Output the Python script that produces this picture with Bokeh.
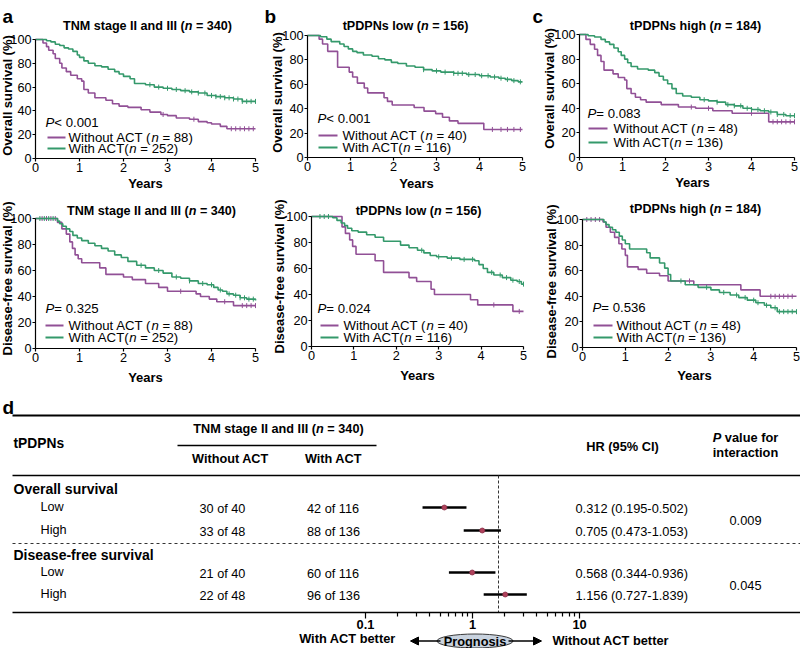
import numpy as np
from bokeh.plotting import figure
from bokeh.models import (Range1d, FixedTicker, Label, Arrow, NormalHead,
                          CustomJSTickFormatter)
from bokeh.layouts import column, row
from bokeh.embed import file_html
from bokeh.resources import INLINE

# ======================= DATA =======================
x_ticks = [0, 1, 2, 3, 4, 5]
y_ticks = [0, 20, 40, 60, 80, 100]

# Kaplan-Meier step points: (years, survival %), plus censor times
# (a) overall survival, TNM stage II and III
a_os_without = [(0, 100), (0.17, 97), (0.25, 94), (0.3, 91), (0.4, 88), (0.45, 84), (0.55, 80),
                (0.6, 76), (0.7, 73), (0.8, 70), (0.95, 67), (1.05, 65), (1.1, 58), (1.2, 55),
                (1.35, 51), (1.6, 49), (1.75, 46), (1.9, 44), (2.1, 43), (2.4, 41), (2.6, 39),
                (2.85, 37), (3.0, 36), (3.2, 34), (3.5, 33), (3.7, 31), (3.9, 30), (4.0, 29),
                (4.2, 27), (4.35, 25), (5.0, 25)]
a_os_without_cens = [2.9, 3.6, 4.45, 4.55, 4.65, 4.75, 4.85, 4.95]
a_os_with = [(0, 100), (0.25, 99), (0.35, 98), (0.45, 96), (0.55, 95), (0.65, 93), (0.75, 92),
             (0.85, 90), (0.95, 87), (1.0, 85), (1.1, 82), (1.2, 80), (1.35, 78), (1.5, 77),
             (1.65, 75), (1.8, 73), (1.9, 71), (2.0, 69), (2.15, 67), (2.25, 63), (2.5, 62),
             (2.7, 60), (2.9, 59), (3.1, 58), (3.3, 57), (3.5, 56), (3.7, 55), (3.9, 53),
             (4.1, 52), (4.3, 51), (4.5, 50), (4.7, 48), (5.0, 48)]
a_os_with_cens = [2.6, 2.8, 3.0, 3.2, 3.4, 3.55, 3.7, 3.85, 4.0, 4.1, 4.2, 4.3, 4.4, 4.5,
                  4.6, 4.7, 4.8, 4.9, 5.0]

# (b) overall survival, tPDPNs low
b_os_without = [(0, 100), (0.27, 97), (0.35, 93), (0.47, 87), (0.7, 74), (0.97, 70), (1.05, 66),
                (1.16, 61), (1.32, 57), (1.4, 53), (1.78, 49), (1.86, 46), (1.97, 43), (2.48, 41),
                (2.71, 38), (2.98, 36), (3.14, 33), (3.3, 30), (3.5, 28), (4.1, 23), (5.0, 23)]
b_os_without_cens = [4.3, 4.5, 4.65, 4.8, 4.95]
b_os_with = [(0, 100), (0.3, 99), (0.45, 97), (0.55, 95), (0.75, 93), (0.85, 91), (0.95, 89),
             (1.05, 87), (1.15, 86), (1.3, 84), (1.5, 83), (1.65, 81), (1.8, 80), (1.95, 78),
             (2.1, 77), (2.3, 75), (2.5, 74), (2.7, 72), (2.9, 71), (3.1, 70), (3.4, 69),
             (3.7, 68), (4.0, 67), (4.25, 66), (4.45, 65), (4.6, 64), (4.75, 63), (4.9, 62),
             (5.0, 62)]
b_os_with_cens = [2.7, 3.0, 3.2, 3.4, 3.5, 3.6, 3.75, 3.9, 4.05, 4.2, 4.35, 4.5, 4.65, 4.8, 4.95]

# (c) overall survival, tPDPNs high
c_os_without = [(0, 100), (0.15, 96), (0.25, 92), (0.35, 88), (0.42, 83), (0.5, 78), (0.57, 71),
                (0.78, 68), (0.9, 65), (1.05, 63), (1.1, 56), (1.2, 52), (1.3, 49), (1.42, 47),
                (1.55, 45), (1.9, 43), (2.3, 41), (2.7, 40), (3.1, 38), (3.55, 36), (4.4, 29),
                (5.0, 29)]
c_os_without_cens = [2.6, 3.0, 4.0, 4.5, 4.6, 4.7, 4.8, 4.9, 5.0]
c_os_with = [(0, 100), (0.2, 99), (0.35, 98), (0.5, 96), (0.6, 94), (0.7, 92), (0.8, 89),
             (0.9, 86), (0.97, 83), (1.05, 80), (1.12, 77), (1.2, 74), (1.35, 72), (1.6, 71),
             (1.75, 69), (1.85, 66), (1.95, 63), (2.05, 60), (2.15, 56), (2.25, 52), (2.4, 50),
             (2.6, 49), (2.8, 47), (3.0, 46), (3.2, 45), (3.4, 43), (3.6, 42), (3.8, 40),
             (4.0, 39), (4.2, 38), (4.4, 37), (4.6, 35), (4.8, 34), (5.0, 34)]
c_os_with_cens = [2.9, 3.2, 3.45, 3.6, 3.75, 3.9, 4.0, 4.15, 4.3, 4.45, 4.6, 4.75, 4.9, 5.0]

# (a) disease-free survival, TNM stage II and III
a_dfs_without = [(0, 100), (0.5, 97), (0.6, 92), (0.7, 88), (0.78, 82), (0.84, 77), (0.9, 72),
                 (0.97, 69), (1.05, 66), (1.46, 62), (1.6, 57), (2.0, 55), (2.2, 53), (2.5, 50),
                 (2.8, 47), (3.0, 44), (3.65, 42), (3.75, 40), (3.95, 38), (4.12, 36), (4.5, 33),
                 (5.0, 33)]
a_dfs_without_cens = [0.15, 0.25, 0.35, 0.45, 3.3, 4.3, 4.7, 4.8, 4.9, 5.0]
a_dfs_with = [(0, 100), (0.5, 98), (0.55, 96), (0.62, 94), (0.7, 92), (0.78, 90), (0.85, 87),
              (0.95, 85), (1.05, 83), (1.2, 81), (1.35, 79), (1.5, 77), (1.65, 75), (1.8, 72),
              (1.95, 70), (2.1, 67), (2.3, 64), (2.5, 62), (2.7, 60), (2.9, 58), (3.1, 55),
              (3.3, 54), (3.5, 52), (3.7, 50), (3.9, 49), (4.05, 47), (4.15, 45), (4.25, 44),
              (4.35, 42), (4.5, 41), (4.65, 39), (4.8, 38), (5.0, 37)]
a_dfs_with_cens = [0.1, 0.2, 0.3, 0.4, 2.4, 2.8, 3.2, 3.5, 3.8, 4.0, 4.2, 4.4, 4.55, 4.65,
                   4.75, 4.85, 4.95]

# (b) disease-free survival, tPDPNs low
b_dfs_without = [(0, 100), (0.72, 92), (0.8, 87), (0.9, 82), (0.97, 77), (1.05, 71), (1.5, 66),
                 (1.7, 57), (2.3, 53), (2.48, 50), (2.82, 44), (2.9, 40), (3.75, 36), (3.92, 32),
                 (4.75, 27), (5.0, 27)]
b_dfs_without_cens = [4.3, 4.9]
b_dfs_with = [(0, 100), (0.5, 99), (0.6, 97), (0.7, 95), (0.78, 93), (0.85, 91), (0.95, 89),
              (1.1, 88), (1.3, 86), (1.5, 84), (1.7, 81), (2.1, 78), (2.3, 76), (2.5, 74),
              (2.65, 72), (2.8, 70), (2.95, 69), (3.2, 68), (3.5, 67), (3.85, 66), (3.95, 63),
              (4.05, 60), (4.15, 57), (4.3, 55), (4.5, 53), (4.7, 51), (4.85, 50), (4.95, 48),
              (5.0, 48)]
b_dfs_with_cens = [0.2, 0.3, 0.4, 2.6, 3.0, 3.3, 3.6, 3.8, 4.25, 4.45, 4.6, 4.75, 4.9, 5.0]

# (c) disease-free survival, tPDPNs high
c_dfs_without = [(0, 100), (0.48, 98), (0.55, 94), (0.65, 90), (0.75, 86), (0.85, 81),
                 (0.92, 77), (1.0, 72), (1.05, 63), (1.3, 61), (1.5, 58), (1.8, 56), (2.0, 52),
                 (2.6, 49), (3.7, 45), (4.15, 40), (5.0, 40)]
c_dfs_without_cens = [0.1, 0.2, 0.3, 0.4, 2.5, 4.4, 4.5, 4.6, 4.7, 4.8, 4.9]
c_dfs_with = [(0, 100), (0.5, 98), (0.55, 96), (0.62, 94), (0.7, 92), (0.78, 90), (0.86, 87),
              (0.93, 84), (1.0, 81), (1.1, 77), (1.5, 74), (1.58, 70), (1.8, 66), (1.92, 62),
              (2.0, 57), (2.06, 52), (2.4, 49), (2.7, 47), (3.0, 45), (3.2, 43), (3.45, 41),
              (3.65, 39), (3.85, 37), (4.05, 35), (4.25, 33), (4.4, 31), (4.55, 28), (5.0, 28)]
c_dfs_with_cens = [2.3, 2.9, 3.3, 3.6, 3.8, 4.0, 4.1, 4.3, 4.5, 4.6, 4.7, 4.8, 4.9, 5.0]

panel_titles = ["TNM stage II and III", "tPDPNs low", "tPDPNs high"]
panel_n = [340, 156, 184]
n_without = [88, 40, 48]
n_with = [252, 116, 136]
p_os = ["< 0.001", "< 0.001", "= 0.083"]
p_dfs = ["= 0.325", "= 0.024", "= 0.536"]

# (d) interaction table
tbl_groups = ["Overall survival", "Disease-free survival"]
tbl_levels = ["Low", "High", "Low", "High"]
wo_events = [30, 33, 21, 22]
wo_total = [40, 48, 40, 48]
w_events = [42, 88, 60, 96]
w_total = [116, 136, 116, 136]
hr = [0.312, 0.705, 0.568, 1.156]
hr_lo = [0.195, 0.473, 0.344, 0.727]
hr_hi = [0.502, 1.053, 0.936, 1.839]
p_interaction = ["0.009", "0.045"]
forest_ticks = [0.1, 1, 10]

# ======================= STYLE / LAYOUT =======================
FONT = "Liberation Sans"
PURPLE = "#915096"
GREEN = "#34996b"

REG = {' ': 278, '(': 333, ')': 333, '=': 584, '<': 584, '.': 278, '-': 333, '%': 889,
       'A': 667, 'C': 722, 'T': 611, 'W': 944, 'P': 667, 'L': 556, 'H': 722, 'N': 722,
       'M': 833, 'I': 278, 'D': 722, 'S': 667, 'R': 722, 'Y': 667,
       'a': 556, 'b': 556, 'c': 500, 'd': 556, 'e': 556, 'f': 278, 'g': 556, 'h': 556,
       'i': 222, 'j': 222, 'k': 500, 'l': 222, 'm': 833, 'n': 556, 'o': 556, 'p': 556,
       'q': 556, 'r': 333, 's': 500, 't': 278, 'u': 556, 'v': 500, 'w': 722, 'x': 500,
       'y': 500, 'z': 500}
BOLD = {' ': 278, '(': 333, ')': 333, '=': 584, '<': 584, '.': 278, '-': 333, '%': 889,
        'A': 722, 'C': 722, 'T': 611, 'W': 944, 'P': 667, 'L': 611, 'H': 722, 'N': 722,
        'M': 833, 'I': 278, 'D': 722, 'S': 667, 'R': 722, 'Y': 667,
        'a': 556, 'b': 611, 'c': 556, 'd': 611, 'e': 556, 'f': 333, 'g': 611, 'h': 611,
        'i': 278, 'j': 278, 'k': 556, 'l': 278, 'm': 889, 'n': 611, 'o': 611, 'p': 611,
        'q': 611, 'r': 389, 's': 556, 't': 333, 'u': 611, 'v': 556, 'w': 778, 'x': 556,
        'y': 556, 'z': 500}


def tw(txt, size, bold):
    tab = BOLD if bold else REG
    return sum(tab.get(ch, 556) for ch in txt) * size / 1000.0


def lab(p, x, y, text, size, style="normal", align="left", baseline="middle", angle=0.0,
        x_offset=0.0):
    p.add_layout(Label(x=x, y=y, x_offset=x_offset, text=text, text_font=FONT,
                       text_font_size=f"{size}px", text_font_style=style, angle=angle,
                       text_align=align, text_baseline=baseline, text_color="black"))


def rich(p, x, y, pieces, size, bold=False, align="left", baseline="middle"):
    widths = [tw(t, size, bold) for t, _ in pieces]
    total = sum(widths)
    off = {"left": 0.0, "center": -total / 2.0, "right": -total}[align]
    for (txt, ital), w in zip(pieces, widths):
        lead = len(txt) - len(txt.lstrip(" "))
        lead_w = tw(txt[:lead], size, bold)
        style = (("bold" if bold else "") + (" italic" if ital else "")).strip() or "normal"
        s = txt.strip(" ")
        if s:
            lab(p, x, y, s, size, style, "left", baseline, x_offset=off + lead_w)
        off += w


def draw_curve(p, pts, cens, color):
    t = np.array([a for a, _ in pts], dtype=float)
    s = np.array([b for _, b in pts], dtype=float)
    p.step(t, s, mode="after", line_color=color, line_width=1.6)
    c = np.array(cens, dtype=float)
    idx = np.searchsorted(t, c, side="right") - 1
    p.scatter(c, s[idx], marker="dash", angle=np.pi / 2, size=5, line_color=color, line_width=1)


def km_panel(cfg, k, curves, ylab, pval):
    L, T, R, B = cfg["box"]
    X0, X5, Y100, Y0 = cfg["ax"]
    ppx = (X5 - X0) / 5.0
    ppy = (Y0 - Y100) / 100.0
    dx = lambda px: (px - X0) / ppx
    dy = lambda py: (Y0 - py) / ppy
    p = figure(width=R - L, height=B - T, x_range=Range1d(dx(L), dx(R)),
               y_range=Range1d(dy(B), dy(T)), min_border=0,
               output_backend="svg", toolbar_location=None)
    p.outline_line_color = None
    p.grid.visible = False
    p.xaxis.fixed_location = 0
    p.yaxis.fixed_location = 0
    p.xaxis.ticker = FixedTicker(ticks=x_ticks)
    p.yaxis.ticker = FixedTicker(ticks=y_ticks)
    p.xaxis.bounds = (0, 5)
    p.yaxis.bounds = (0, 100)
    p.axis.axis_line_color = "black"
    p.axis.axis_line_width = 1.2
    p.axis.major_tick_line_color = "black"
    p.axis.major_tick_line_width = 1.2
    p.axis.major_tick_out = 3
    p.axis.major_tick_in = 0
    p.axis.minor_tick_out = 0
    p.axis.minor_tick_in = 0
    p.axis.major_label_text_font = FONT
    p.axis.major_label_text_font_size = "12.7px"
    p.axis.major_label_text_color = "black"
    p.axis.major_label_standoff = 1

    (wo, wo_c), (wi, wi_c) = curves
    draw_curve(p, wo, wo_c, PURPLE)
    draw_curve(p, wi, wi_c, GREEN)

    if cfg.get("letter"):
        lt, lx, ly = cfg["letter"]
        lab(p, dx(lx), dy(ly), lt, 19, "bold", "left", "alphabetic")
    tx, ty = cfg["title"]
    rich(p, dx(tx), dy(ty), [(panel_titles[k] + " (", False), ("n", True),
                             (f" = {panel_n[k]})", False)], 12.6, bold=True, align="center")
    yx, yy = cfg["ylab"]
    lab(p, dx(yx), dy(yy), ylab, 13, "bold", "center", "middle", angle=np.pi / 2)
    xx, xy = cfg["xlab"]
    lab(p, dx(xx), dy(xy), "Years", 13, "bold", "center", "middle")
    px_, py_ = cfg["p"]
    rich(p, dx(px_), dy(py_), [("P", True), (pval, False)], 13.2)
    y1, y2 = cfg["leg_y"]
    s0, s1 = cfg["leg_sw"]
    txx = cfg["leg_tx"]
    for yy_, col, pieces in [(y1, PURPLE, [("Without ACT (", False), ("n", True),
                                           (f" = {n_without[k]})", False)]),
                             (y2, GREEN, [("With ACT(", False), ("n", True),
                                          (f" = {n_with[k]})", False)])]:
        p.segment(x0=[dx(s0)], x1=[dx(s1)], y0=[dy(yy_)], y1=[dy(yy_)], line_color=col,
                  line_width=2)
        rich(p, dx(txx), dy(yy_), pieces, 13.2)
    return p


top_cfg = [
    dict(box=(0, 0, 263, 190), ax=(35, 255, 39, 158), letter=("a", 2, 16), title=(147, 25),
         ylab=(7, 95), xlab=(145, 183), p=(45, 122), leg_y=(137, 148), leg_sw=(47, 65),
         leg_tx=68),
    dict(box=(263, 0, 531, 190), ax=(307, 522, 35, 157), letter=("b", 264, 16),
         title=(405, 25), ylab=(277, 92), xlab=(416, 183), p=(317, 118), leg_y=(135, 147),
         leg_sw=(318, 337), leg_tx=342),
    dict(box=(531, 0, 800, 190), ax=(579, 794, 34, 157), letter=("c", 532, 16),
         title=(695, 25), ylab=(549, 88), xlab=(692, 182), p=(587, 113), leg_y=(128, 142),
         leg_sw=(588, 607), leg_tx=613),
]
bot_cfg = [
    dict(box=(0, 190, 263, 390), ax=(35, 255, 218, 348), title=(151, 210), ylab=(7, 278),
         xlab=(145, 377), p=(45, 308), leg_y=(325, 337), leg_sw=(45, 63), leg_tx=68),
    dict(box=(263, 190, 531, 390), ax=(311, 523, 216, 346), title=(418, 210),
         ylab=(279, 276), xlab=(417, 375), p=(317, 308), leg_y=(325, 337),
         leg_sw=(320, 338), leg_tx=343),
    dict(box=(531, 190, 800, 390), ax=(582, 796, 219, 347), title=(695, 208),
         ylab=(551, 281), xlab=(694, 375), p=(592, 307), leg_y=(325, 337),
         leg_sw=(593, 612), leg_tx=616),
]

os_curves = [((a_os_without, a_os_without_cens), (a_os_with, a_os_with_cens)),
             ((b_os_without, b_os_without_cens), (b_os_with, b_os_with_cens)),
             ((c_os_without, c_os_without_cens), (c_os_with, c_os_with_cens))]
dfs_curves = [((a_dfs_without, a_dfs_without_cens), (a_dfs_with, a_dfs_with_cens)),
              ((b_dfs_without, b_dfs_without_cens), (b_dfs_with, b_dfs_with_cens)),
              ((c_dfs_without, c_dfs_without_cens), (c_dfs_with, c_dfs_with_cens))]

top = [km_panel(top_cfg[k], k, os_curves[k], "Overall survival (%)", p_os[k]) for k in range(3)]
bot = [km_panel(bot_cfg[k], k, dfs_curves[k], "Disease-free survival (%)", p_dfs[k])
       for k in range(3)]

# ======================= TABLE / FOREST (d) =======================
HR1_PX, DEC_PX = 498, 107          # pixel of HR = 1 and pixels per decade
LABEL_SHIFT_PX = -26               # axis labels drawn 26 px left of their values


def hx(px):
    return 10 ** ((px - HR1_PX) / DEC_PX)


K = 10 ** (LABEL_SHIFT_PX / DEC_PX)
TT, TB = 390, 648
AXIS_Y = 612
tb = figure(width=800, height=TB - TT, x_axis_type="log", x_range=Range1d(hx(0), hx(800)),
            y_range=Range1d(TB, TT), y_axis_location=None, min_border=0,
            output_backend="svg", toolbar_location=None)
tb.outline_line_color = None
tb.grid.visible = False
tb.xaxis.fixed_location = AXIS_Y
tb.xaxis.bounds = (hx(12), hx(800))
tb.xaxis.ticker = FixedTicker(ticks=[K * v for v in forest_ticks],
                              minor_ticks=[K * m * d for d in (0.1, 1) for m in range(2, 10)])
tb.xaxis.formatter = CustomJSTickFormatter(
    code=f"const e = Math.round(Math.log10(tick / {K})); return e < 0 ? '0.1' : String(Math.pow(10, e));")
tb.xaxis.axis_line_color = "black"
tb.xaxis.axis_line_width = 1.5
tb.xaxis.major_tick_line_color = "black"
tb.xaxis.minor_tick_line_color = "black"
tb.xaxis.major_tick_line_width = 1.2
tb.xaxis.minor_tick_line_width = 1.2
tb.xaxis.major_tick_out = 6
tb.xaxis.major_tick_in = 0
tb.xaxis.minor_tick_out = 4
tb.xaxis.minor_tick_in = 0
tb.xaxis.major_label_text_font = FONT
tb.xaxis.major_label_text_font_size = "12.8px"
tb.xaxis.major_label_text_font_style = "bold"
tb.xaxis.major_label_text_color = "black"
tb.xaxis.major_label_standoff = 1

# table rules
tb.segment(x0=[hx(12)], x1=[hx(800)], y0=[415], y1=[415], line_color="black", line_width=2)
tb.segment(x0=[hx(12)], x1=[hx(800)], y0=[475], y1=[475], line_color="black", line_width=1.5)
tb.segment(x0=[hx(12)], x1=[hx(800)], y0=[543], y1=[543], line_color="#333333",
           line_width=1.2, line_dash="3 3")
tb.segment(x0=[hx(177)], x1=[hx(376)], y0=[445], y1=[445], line_color="black", line_width=1.5)

row_y = [507, 530, 572, 594]
group_y = [488, 554]
p_y = [520, 585]

tb.segment(x0=[1.0], x1=[1.0], y0=[475], y1=[AXIS_Y], line_color="#333333", line_width=1,
           line_dash="3 2")
tb.segment(x0=hr_lo, x1=hr_hi, y0=row_y, y1=row_y, line_color="black", line_width=2.6)
tb.scatter(hr, row_y, size=5, marker="circle", fill_color="#b0425c", line_color="#8a2f47",
           line_width=0.8)

lab(tb, hx(2), 407, "d", 19, "bold", "left", "alphabetic")
rich(tb, hx(13), 443, [("tPDPNs", False)], 13.8, bold=True)
rich(tb, hx(278), 428, [("TNM stage II and III (", False), ("n", True), (" = 340)", False)],
     12.7, bold=True, align="center")
rich(tb, hx(230), 458, [("Without ACT", False)], 12.7, bold=True, align="center")
rich(tb, hx(333), 458, [("With ACT", False)], 12.7, bold=True, align="center")
rich(tb, hx(622), 446, [("HR (95% CI)", False)], 12.8, bold=True, align="center")
rich(tb, hx(745), 437, [("P", True), (" value for", False)], 12.8, bold=True, align="center")
rich(tb, hx(745), 452, [("interaction", False)], 12.8, bold=True, align="center")

for g, gy in zip(tbl_groups, group_y):
    rich(tb, hx(13), gy, [(g, False)], 14, bold=True)
for i in range(4):
    y = row_y[i]
    rich(tb, hx(40), y - 1, [(tbl_levels[i], False)], 12.7)
    rich(tb, hx(222), y + 1, [(f"{wo_events[i]} of {wo_total[i]}", False)], 12.7, align="center")
    rich(tb, hx(333), y + 1, [(f"{w_events[i]} of {w_total[i]}", False)], 12.7, align="center")
    rich(tb, hx(575), y + 1, [(f"{hr[i]:.3f} ({hr_lo[i]:.3f}-{hr_hi[i]:.3f})", False)], 12.8)
for pv, py in zip(p_interaction, p_y):
    rich(tb, hx(745), py, [(pv, False)], 12.8, align="center")

rich(tb, hx(347), 638, [("With ACT better", False)], 12.8, bold=True, align="center")
rich(tb, hx(552), 640, [("Without ACT better", False)], 12.8, bold=True)
tb.add_layout(Arrow(end=NormalHead(size=8, fill_color="black", line_color="black"),
                    x_start=hx(440), y_start=640.5, x_end=hx(410), y_end=640.5,
                    line_color="black", line_width=1.5))
tb.add_layout(Arrow(end=NormalHead(size=8, fill_color="black", line_color="black"),
                    x_start=hx(508), y_start=640.5, x_end=hx(541), y_end=640.5,
                    line_color="black", line_width=1.5))
tb.ellipse(x=[hx(474.5)], y=[640.5], width=[76], height=[14], width_units="screen",
           height_units="screen", fill_color="#c9d3df", line_color="#3a3a3a", line_width=1)
lab(tb, hx(474.5), 640.5, "Prognosis", 12.8, "bold", "center", "middle")

layout = column(row(*top), row(*bot), tb)
open("out.html", "w").write(file_html(layout, INLINE))
